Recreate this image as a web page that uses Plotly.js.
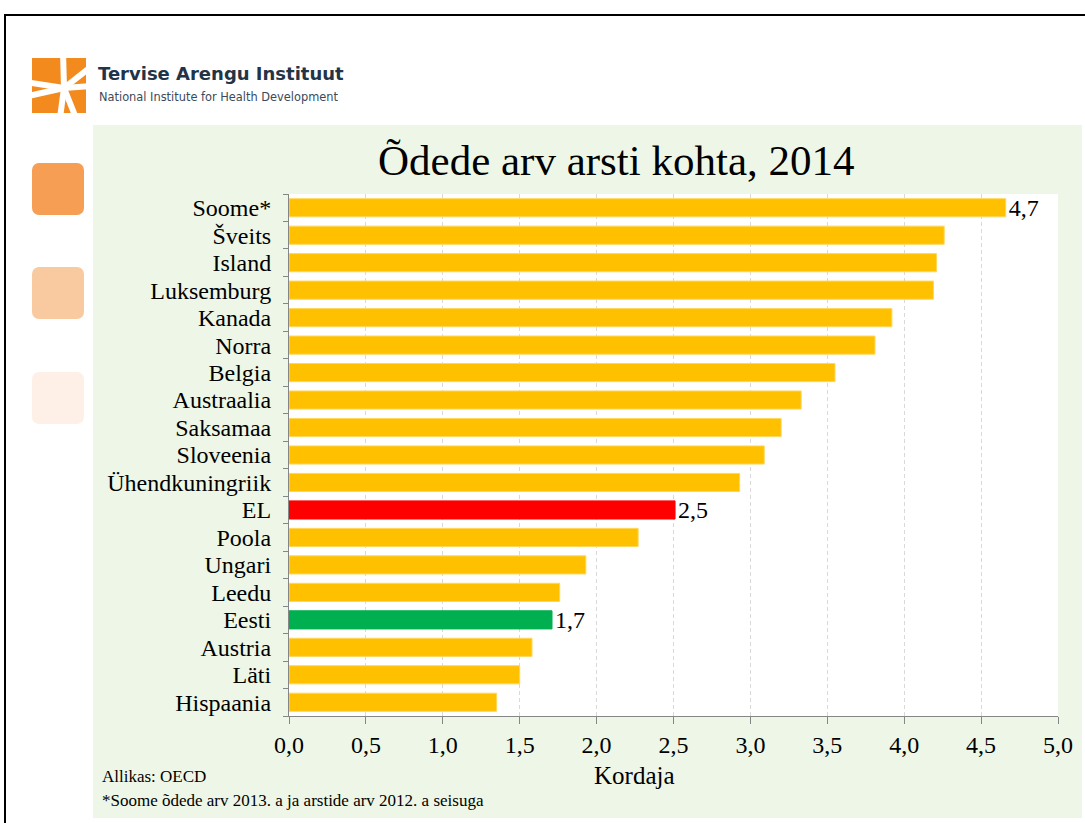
<!DOCTYPE html>
<html>
<head>
<meta charset="utf-8">
<script src="https://cdn.plot.ly/plotly-3.0.1.min.js"></script>
<style>
  html, body { margin:0; padding:0; background:#ffffff; }
  #page { position:relative; width:1085px; height:823px; overflow:hidden; background:#ffffff; }
  .abs { position:absolute; }
  #frameTop { left:4px; top:14px; width:1090px; height:2px; background:#000; }
  #frameLeft { left:4px; top:14px; width:2px; height:820px; background:#000; }
  #panel { left:93px; top:125px; width:989px; height:693px; background:#EEF7E7; }
  .sq { left:32px; width:52px; height:52px; border-radius:7px; }
  #logoText1 { left:98px; top:63px; font-family:"DejaVu Sans", sans-serif; font-weight:bold; font-size:18px; color:#243447; white-space:nowrap; }
  #logoText2 { left:99px; top:90px; font-family:"DejaVu Sans", sans-serif; font-size:11.4px; color:#3b4a5a; white-space:nowrap; }
  #chart { left:0; top:0; width:1085px; height:823px; }
</style>
</head>
<body>
<div id="page">
  <div id="panel" class="abs"></div>
  <div class="abs sq" style="top:163px;background:#F79E55;"></div>
  <div class="abs sq" style="top:267px;background:#F9CAA0;"></div>
  <div class="abs sq" style="top:372px;background:#FEF0E6;"></div>
  <svg class="abs" style="left:30px;top:56px;" width="58" height="60" viewBox="0 0 58 60">
    <rect x="2" y="2" width="54" height="55" fill="#F28A1E"/>
    <g stroke="#ffffff" stroke-width="6" stroke-linecap="butt">
      <line x1="34" y1="32" x2="-5" y2="26"/>
      <line x1="34" y1="32" x2="33" y2="-5"/>
      <line x1="34" y1="32" x2="62" y2="10"/>
      <line x1="34" y1="32" x2="62" y2="30"/>
      <line x1="34" y1="32" x2="-2" y2="40"/>
      <line x1="34" y1="32" x2="30" y2="62"/>
      <line x1="34" y1="32" x2="46" y2="62"/>
    </g>
  </svg>
  <div id="logoText1" class="abs">Tervise Arengu Instituut</div>
  <div id="logoText2" class="abs">National Institute for Health Development</div>
  <div id="chart" class="abs"></div>
  <div id="frameTop" class="abs"></div>
  <div id="frameLeft" class="abs"></div>
</div>
<script>
const categories = ["Soome*","Šveits","Island","Luksemburg","Kanada","Norra","Belgia","Austraalia","Saksamaa","Sloveenia","Ühendkuningriik","EL","Poola","Ungari","Leedu","Eesti","Austria","Läti","Hispaania"];
const values = [4.66,4.26,4.21,4.19,3.92,3.81,3.55,3.33,3.20,3.09,2.93,2.51,2.27,1.93,1.76,1.71,1.58,1.50,1.35];
const barColors = ["#FFC000","#FFC000","#FFC000","#FFC000","#FFC000","#FFC000","#FFC000","#FFC000","#FFC000","#FFC000","#FFC000","#FF0000","#FFC000","#FFC000","#FFC000","#00B050","#FFC000","#FFC000","#FFC000"];
const lineColors = ["#FFD75A","#FFD75A","#FFD75A","#FFD75A","#FFD75A","#FFD75A","#FFD75A","#FFD75A","#FFD75A","#FFD75A","#FFD75A","#FF0000","#FFD75A","#FFD75A","#FFD75A","#00B050","#FFD75A","#FFD75A","#FFD75A"];
const valueLabels = ["4,7","","","","","","","","","","","2,5","","","","1,7","","",""];
const xTickVals = [0,0.5,1,1.5,2,2.5,3,3.5,4,4.5,5];
const titleText = "Õdede arv arsti kohta, 2014";
const xTitle = "Kordaja";
const source = "Allikas: OECD";
const footnote = "*Soome õdede arv 2013. a ja arstide arv 2012. a seisuga";

const serif = "Liberation Serif, Times New Roman, serif";

const trace = {
  type: "bar",
  orientation: "h",
  y: categories,
  x: values,
  marker: { color: barColors, line: { color: lineColors, width: 1 } },
  text: valueLabels,
  textposition: "outside",
  constraintext: "none",
  textfont: { family: serif, size: 24, color: "#000" },
  cliponaxis: false,
  hoverinfo: "none"
};

const layout = {
  width: 1085,
  height: 823,
  margin: { l: 289, r: 27, t: 194, b: 107 },
  paper_bgcolor: "rgba(0,0,0,0)",
  plot_bgcolor: "#ffffff",
  separators: ", ",
  showlegend: false,
  bargap: 0.34,
  title: {
    text: titleText,
    font: { family: serif, size: 43, color: "#000" },
    xref: "container", yref: "container",
    x: 0.568, xanchor: "center",
    y: 1 - 160/823, yanchor: "middle"
  },
  xaxis: {
    range: [0, 5],
    tickvals: xTickVals,
    tickformat: ".1f",
    showgrid: true,
    gridcolor: "#D9D9D9",
    griddash: "4px,3px",
    gridwidth: 1,
    showline: true,
    linecolor: "#868686",
    linewidth: 1,
    ticks: "outside",
    ticklen: 7,
    tickcolor: "#868686",
    tickfont: { family: serif, size: 24, color: "#000" },
    zeroline: false,
    fixedrange: true
  },
  yaxis: {
    type: "category",
    autorange: "reversed",
    tickmode: "array",
    tickvals: categories,
    ticktext: categories,
    showline: true,
    linecolor: "#868686",
    linewidth: 1,
    ticks: "outside",
    tickson: "boundaries",
    ticklen: 5,
    tickcolor: "#868686",
    ticklabelstandoff: 12,
    tickfont: { family: serif, size: 24, color: "#000" },
    showgrid: false,
    fixedrange: true
  },
  annotations: [
    { text: xTitle, xref: "paper", yref: "paper", x: (634-289)/769, y: (716-775)/522,
      xanchor: "center", yanchor: "middle", showarrow: false,
      font: { family: serif, size: 25, color: "#000" } },
    { text: source, xref: "paper", yref: "paper", x: (100-289)/769, y: (716-776)/522,
      xanchor: "left", yanchor: "middle", showarrow: false,
      font: { family: serif, size: 17, color: "#000" } },
    { text: footnote, xref: "paper", yref: "paper", x: (100-289)/769, y: (716-800)/522,
      xanchor: "left", yanchor: "middle", showarrow: false,
      font: { family: serif, size: 17, color: "#000" } }
  ]
};

Plotly.newPlot("chart", [trace], layout, { displayModeBar: false, staticPlot: true });
</script>
</body>
</html>
